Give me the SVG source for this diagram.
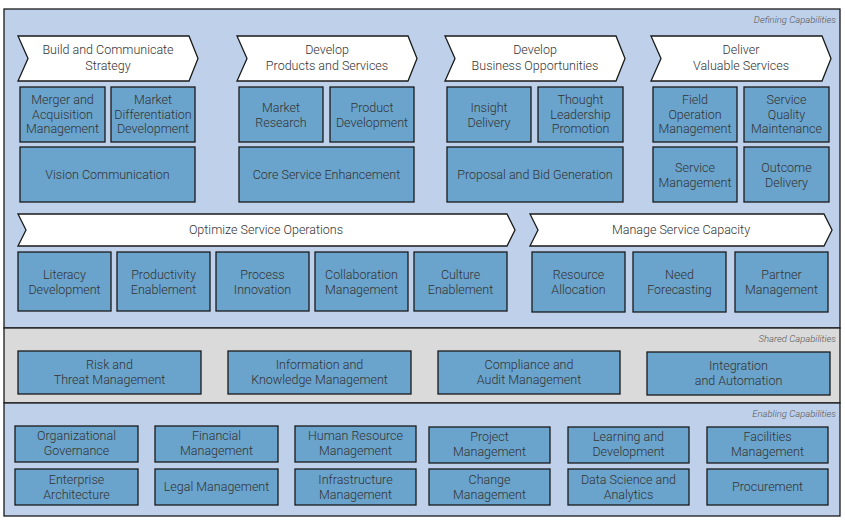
<svg xmlns="http://www.w3.org/2000/svg" width="845" height="522" viewBox="0 0 845 522">
<style>
.b{fill:#6aa3cb;stroke:#1a1a1a;stroke-width:1.3}
.c{fill:#fff;stroke:#1a1a1a;stroke-width:1.3}
text{font-family:Roboto,"Liberation Sans",sans-serif;font-size:12.5px;font-weight:300;fill:#333;text-anchor:middle}
.s{font-size:9.5px;font-style:italic;text-anchor:end;fill:#555}
</style>
<rect width="845" height="522" fill="#fff"/>
<rect x="4" y="9" width="836" height="319" fill="#bed0ea" stroke="#1a1a1a" stroke-width="1.3"/>
<rect x="4" y="328" width="836" height="75" fill="#dadada" stroke="#1a1a1a" stroke-width="1.3"/>
<rect x="4" y="403" width="836" height="113" fill="#bed0ea" stroke="#1a1a1a" stroke-width="1.3"/>
<text class="s" x="836" y="23">Defining Capabilities</text>
<text class="s" x="836" y="342">Shared Capabilities</text>
<text class="s" x="836" y="417">Enabling Capabilities</text>
<g id="ch1"><path class="c" d="M18 36H189L198 58.5L189 81H18L28 58.5Z"/><text x="108" y="54">Build and Communicate</text><text x="108" y="70">Strategy</text></g>
<g id="ch2"><path class="c" d="M237 36H408L417 58.5L408 81H237L247 58.5Z"/><text x="327" y="54">Develop</text><text x="327" y="70">Products and Services</text></g>
<g id="ch3"><path class="c" d="M445 36H616L625 58.5L616 81H445L455 58.5Z"/><text x="535" y="54">Develop</text><text x="535" y="70">Business Opportunities</text></g>
<g id="ch4"><path class="c" d="M651 36H822L831 58.5L822 81H651L661 58.5Z"/><text x="741" y="54">Deliver</text><text x="741" y="70">Valuable Services</text></g>
<g id="ch5"><path class="c" d="M18 214H507L515 230L507 246H18L26 230Z"/><text x="266" y="234">Optimize Service Operations</text></g>
<g id="ch6"><path class="c" d="M530 214H824L832 230L824 246H530L538 230Z"/><text x="681" y="234">Manage Service Capacity</text></g>
<g id="n1"><rect class="b" x="20" y="87" width="85" height="55"/><text x="62.5" y="104">Merger and</text><text x="62.5" y="119">Acquisition</text><text x="62.5" y="133">Management</text></g>
<g id="n2"><rect class="b" x="111" y="87" width="84" height="55"/><text x="153" y="104">Market</text><text x="153" y="119">Differentiation</text><text x="153" y="133">Development</text></g>
<g id="n3"><rect class="b" x="20" y="147" width="175" height="55"/><text x="107.5" y="179">Vision Communication</text></g>
<g id="n4"><rect class="b" x="239" y="87" width="84" height="55"/><text x="281" y="112">Market</text><text x="281" y="127">Research</text></g>
<g id="n5"><rect class="b" x="330" y="87" width="84" height="55"/><text x="372" y="112">Product</text><text x="372" y="127">Development</text></g>
<g id="n6"><rect class="b" x="239" y="147" width="175" height="55"/><text x="326.5" y="179">Core Service Enhancement</text></g>
<g id="n7"><rect class="b" x="447" y="87" width="84" height="55"/><text x="489" y="112">Insight</text><text x="489" y="127">Delivery</text></g>
<g id="n8"><rect class="b" x="538" y="87" width="85" height="55"/><text x="580.5" y="104">Thought</text><text x="580.5" y="119">Leadership</text><text x="580.5" y="133">Promotion</text></g>
<g id="n9"><rect class="b" x="447" y="147" width="176" height="55"/><text x="535" y="179">Proposal and Bid Generation</text></g>
<g id="n10"><rect class="b" x="653" y="87" width="84" height="55"/><text x="695" y="104">Field</text><text x="695" y="119">Operation</text><text x="695" y="133">Management</text></g>
<g id="n11"><rect class="b" x="744" y="87" width="85" height="55"/><text x="786.5" y="104">Service</text><text x="786.5" y="119">Quality</text><text x="786.5" y="133">Maintenance</text></g>
<g id="n12"><rect class="b" x="653" y="147" width="84" height="55"/><text x="695" y="172">Service</text><text x="695" y="187">Management</text></g>
<g id="n13"><rect class="b" x="744" y="147" width="85" height="55"/><text x="786.5" y="172">Outcome</text><text x="786.5" y="187">Delivery</text></g>
<g id="n14"><rect class="b" x="18" y="252" width="93" height="59"/><text x="64.5" y="279">Literacy</text><text x="64.5" y="294">Development</text></g>
<g id="n15"><rect class="b" x="117" y="252" width="93" height="59"/><text x="163.5" y="279">Productivity</text><text x="163.5" y="294">Enablement</text></g>
<g id="n16"><rect class="b" x="216" y="252" width="93" height="59"/><text x="262.5" y="279">Process</text><text x="262.5" y="294">Innovation</text></g>
<g id="n17"><rect class="b" x="315" y="252" width="93" height="59"/><text x="361.5" y="279">Collaboration</text><text x="361.5" y="294">Management</text></g>
<g id="n18"><rect class="b" x="414" y="252" width="93" height="59"/><text x="460.5" y="279">Culture</text><text x="460.5" y="294">Enablement</text></g>
<g id="n19"><rect class="b" x="532" y="252" width="93" height="60"/><text x="578.5" y="279">Resource</text><text x="578.5" y="294">Allocation</text></g>
<g id="n20"><rect class="b" x="633" y="252" width="93" height="60"/><text x="679.5" y="279">Need</text><text x="679.5" y="294">Forecasting</text></g>
<g id="n21"><rect class="b" x="735" y="252" width="93" height="60"/><text x="781.5" y="279">Partner</text><text x="781.5" y="294">Management</text></g>
<g id="n22"><rect class="b" x="18" y="351" width="183" height="43"/><text x="109.5" y="369">Risk and</text><text x="109.5" y="384">Threat Management</text></g>
<g id="n23"><rect class="b" x="228" y="351" width="183" height="43"/><text x="319.5" y="369">Information and</text><text x="319.5" y="384">Knowledge Management</text></g>
<g id="n24"><rect class="b" x="438" y="351" width="182" height="43"/><text x="529" y="369">Compliance and</text><text x="529" y="384">Audit Management</text></g>
<g id="n25"><rect class="b" x="647" y="352" width="183" height="43"/><text x="738.5" y="370">Integration</text><text x="738.5" y="385">and Automation</text></g>
<g id="n26"><rect class="b" x="15" y="426" width="123" height="36"/><text x="76.5" y="440">Organizational</text><text x="76.5" y="455">Governance</text></g>
<g id="n27"><rect class="b" x="155" y="426" width="123" height="36"/><text x="216.5" y="440">Financial</text><text x="216.5" y="455">Management</text></g>
<g id="n28"><rect class="b" x="295" y="426" width="121" height="36"/><text x="355.5" y="440">Human Resource</text><text x="355.5" y="455">Management</text></g>
<g id="n29"><rect class="b" x="429" y="427" width="121" height="36"/><text x="489.5" y="441">Project</text><text x="489.5" y="456">Management</text></g>
<g id="n30"><rect class="b" x="568" y="427" width="121" height="36"/><text x="628.5" y="441">Learning and</text><text x="628.5" y="456">Development</text></g>
<g id="n31"><rect class="b" x="707" y="427" width="121" height="36"/><text x="767.5" y="441">Facilities</text><text x="767.5" y="456">Management</text></g>
<g id="n32"><rect class="b" x="15" y="469" width="123" height="36"/><text x="76.5" y="484">Enterprise</text><text x="76.5" y="499">Architecture</text></g>
<g id="n33"><rect class="b" x="155" y="469" width="123" height="36"/><text x="216.5" y="491">Legal Management</text></g>
<g id="n34"><rect class="b" x="295" y="469" width="121" height="36"/><text x="355.5" y="484">Infrastructure</text><text x="355.5" y="499">Management</text></g>
<g id="n35"><rect class="b" x="429" y="469" width="121" height="36"/><text x="489.5" y="484">Change</text><text x="489.5" y="499">Management</text></g>
<g id="n36"><rect class="b" x="568" y="469" width="121" height="36"/><text x="628.5" y="484">Data Science and</text><text x="628.5" y="499">Analytics</text></g>
<g id="n37"><rect class="b" x="707" y="469" width="121" height="36"/><text x="767.5" y="491">Procurement</text></g>
<g id="connectors"></g>
</svg>
